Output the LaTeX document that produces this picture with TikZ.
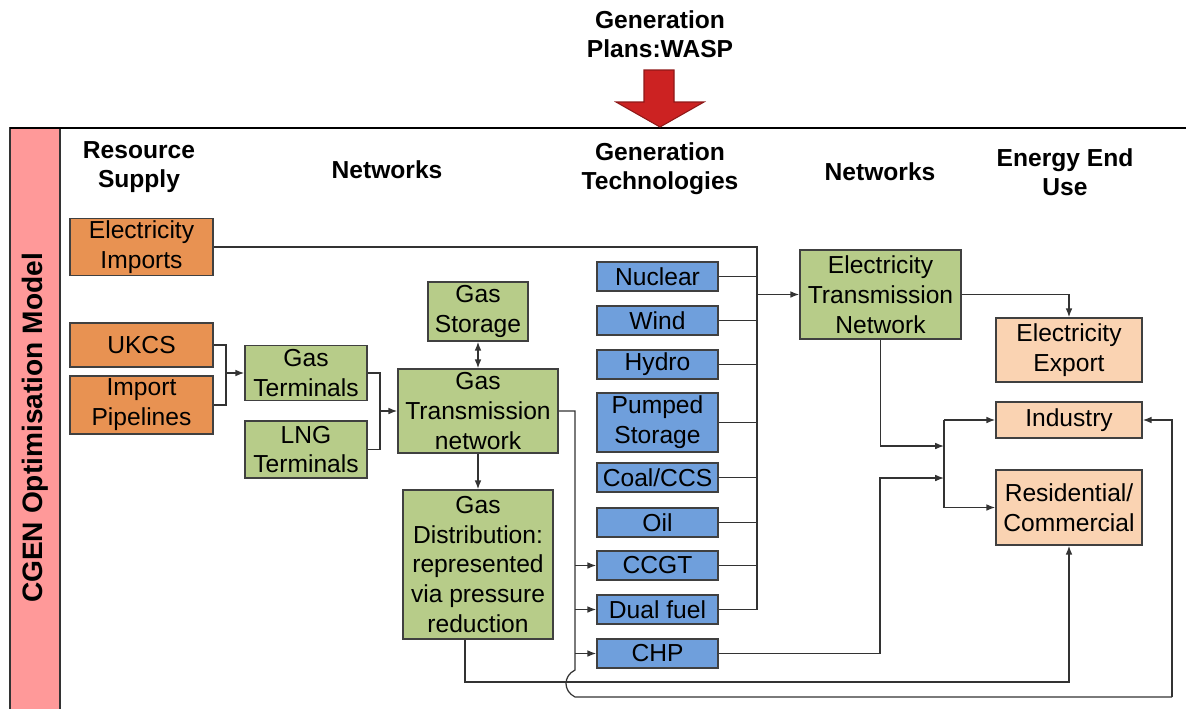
\documentclass[tikz,border=0pt]{standalone}
\usepackage{fontspec}
\setmainfont{Liberation Sans}
\usetikzlibrary{arrows.meta,positioning}

\definecolor{supplyorange}{RGB}{232,146,82}
\definecolor{netgreen}{RGB}{183,204,137}
\definecolor{genblue}{RGB}{111,159,220}
\definecolor{usepeach}{RGB}{250,211,178}
\definecolor{modelpink}{RGB}{255,153,153}
\definecolor{waspred}{RGB}{204,34,34}

\tikzset{
  boxbase/.style={draw=black!75, line width=0.9pt, align=center, inner sep=0pt,
    font=\fontsize{14}{17}\selectfont},
  resbox/.style={boxbase, fill=supplyorange},
  gasbox/.style={boxbase, fill=netgreen},
  genbox/.style={boxbase, fill=genblue, minimum width=2.42cm},
  usebox/.style={boxbase, fill=usepeach, minimum width=2.92cm},
  hdr/.style={align=center, font=\bfseries\fontsize{14}{16.5}\selectfont},
  link/.style={draw=black!80, line width=0.7pt},
}

\begin{document}
\begin{tikzpicture}[x=0.02cm, y=-0.02cm, >={Latex[length=5pt,width=3.8pt]}]
  \useasboundingbox (0,0) rectangle (1186,708);
  %%%%%%%%%%%%%%%%Frame and WASP input%%%%%%%%%%%%%%

  \filldraw[fill=modelpink, draw=black!80, line width=1pt] (10,128) rectangle (60,715);
  \draw[line width=1.2pt] (10,128) -- (1186,128);
  \node[rotate=90, font=\bfseries\fontsize{16}{19}\selectfont] (cgen) at (35,428) {CGEN Optimisation Model};

  \node[hdr] (wasp) at (660,34) {Generation\\Plans:WASP};
  \filldraw[fill=waspred, draw=waspred!70!black, line width=0.6pt]
    (644,70) -- (674,70) -- (674,102) -- (704,102) -- (660,127) -- (616,102) -- (644,102) -- cycle;

  %%%%%%%%%%%%%%%%Column headings%%%%%%%%%%%%%%
  \node[hdr] (h supply) at (139,167) {Resource\\Supply};
  \node[hdr] (h net1) at (387,170) {Networks};
  \node[hdr] (h gen) at (660,169) {Generation\\Technologies};
  \node[hdr] (h net2) at (880,172) {Networks};
  \node[hdr] (h use) at (1065,172) {Energy End\\Use};

  %%%%%%%%%%%%%%%%Resource supply%%%%%%%%%%%%%%
  \node[resbox, minimum width=2.86cm, minimum height=1.14cm] (elecimp) at (141.5,247) {Electricity\\Imports};
  \node[resbox, minimum width=2.86cm, minimum height=0.88cm] (ukcs) at (141.5,345) {UKCS};
  \node[resbox, minimum width=2.86cm, minimum height=1.16cm] (imppipe) at (141.5,405) {Import\\Pipelines};

  %%%%%%%%%%%%%%%%Gas networks%%%%%%%%%%%%%%
  \node[gasbox, minimum width=2.44cm, minimum height=1.10cm] (gasterm) at (306,373) {Gas\\Terminals};
  \node[gasbox, minimum width=2.44cm, minimum height=1.14cm] (lngterm) at (306,449.5) {LNG\\Terminals};
  \node[gasbox, minimum width=2.00cm, minimum height=1.18cm] (gasstor) at (478,311.5) {Gas\\Storage};
  \node[gasbox, minimum width=3.20cm, minimum height=1.68cm] (gastrans) at (478,411) {Gas\\Transmission\\network};
  \node[gasbox, minimum width=3.00cm, minimum height=2.98cm] (gasdist) at (478,564.5) {Gas\\Distribution:\\represented\\via pressure\\reduction};

  %%%%%%%%%%%%%%%%Generation technologies%%%%%%%%%%%%%%
  \node[genbox, minimum height=0.58cm] (nuclear) at (657.5,276.5) {Nuclear};
  \node[genbox, minimum height=0.58cm] (wind) at (657.5,320.5) {Wind};
  \node[genbox, minimum height=0.58cm] (hydro) at (657.5,364.5) {Hydro};
  \node[genbox, minimum height=1.18cm] (pumped) at (657.5,422.5) {Pumped\\Storage};
  \node[genbox, minimum height=0.58cm] (coal) at (657.5,477.5) {Coal/CCS};
  \node[genbox, minimum height=0.58cm] (oil) at (657.5,522.5) {Oil};
  \node[genbox, minimum height=0.58cm] (ccgt) at (657.5,565.5) {CCGT};
  \node[genbox, minimum height=0.58cm] (dual) at (657.5,609.5) {Dual fuel};
  \node[genbox, minimum height=0.58cm] (chp) at (657.5,653.5) {CHP};

  %%%%%%%%%%%%%%%%Electricity network and end use%%%%%%%%%%%%%%
  \node[gasbox, minimum width=3.22cm, minimum height=1.78cm] (etn) at (880.5,294.5) {Electricity\\Transmission\\Network};
  \node[usebox, minimum height=1.28cm] (export) at (1069,350) {Electricity\\Export};
  \node[usebox, minimum height=0.72cm] (industry) at (1069,420) {Industry};
  \node[usebox, minimum height=1.50cm] (resid) at (1069,507.5) {Residential/\\Commercial};

  %%%%%%%%%%%%%%%%Bus lines%%%%%%%%%%%%%%
  \coordinate (sbus) at (226,0);
  \coordinate (tbus) at (380,0);
  \coordinate (fbus) at (575,0);
  \coordinate (ebus) at (757,0);
  \coordinate (ubus) at (944,0);
  \coordinate (hop) at (575,670);
  \coordinate (rim) at (1172,697);
  \coordinate (gdrop) at (465,682);
  \coordinate (chpturn) at (880,478);
  \coordinate (etnturn) at (880.5,446);

  % gas supply
  \draw[link] (ukcs.east) -- (ukcs.east -| sbus) -- (imppipe.east -| sbus) -- (imppipe.east);
  \draw[link,->] (gasterm.west -| sbus) -- (gasterm.west);
  \draw[link] (gasterm.east) -- (gasterm.east -| tbus) -- (lngterm.east -| tbus) -- (lngterm.east);
  \draw[link,->] (gastrans.west -| tbus) -- (gastrans.west);
  \draw[link,<->] (gasstor.south) -- (gastrans.north);
  \draw[link,->] (gastrans.south) -- (gasdist.north);

  % gas to plant
  \draw[link] (gastrans.east) -- (gastrans.east -| fbus) -- (hop)
    .. controls (563,676) and (563,691) .. (575,697) -- (rim);
  \draw[link,->] (rim) |- (industry.east);
  \draw[link,->] (ccgt.west -| fbus) -- (ccgt.west);
  \draw[link,->] (dual.west -| fbus) -- (dual.west);
  \draw[link,->] (chp.west -| fbus) -- (chp.west);
  \draw[link,->] (gdrop |- gasdist.south) -- (gdrop) -| (resid.south);

  % electricity
  \draw[link] (elecimp.east) -- (elecimp.east -| ebus) -- (dual.east -| ebus);
  \foreach \plant in {nuclear,wind,hydro,pumped,coal,oil,ccgt,dual}
    \draw[link] (\plant.east) -- (\plant.east -| ebus);
  \draw[link,->] (etn.west -| ebus) -- (etn.west);
  \draw[link,->] (etn.east) -| (export.north);
  \draw[link,->] (etn.south) -- (etnturn) -- (etnturn -| ubus);
  \draw[link,->] (chp.east) -| (chpturn) -- (chpturn -| ubus);
  \draw[link,->] (industry.west -| ubus) -- (industry.west);
  \draw[link,->] (industry.west -| ubus) -- (resid.west -| ubus) -- (resid.west);

\end{tikzpicture}
\end{document}
